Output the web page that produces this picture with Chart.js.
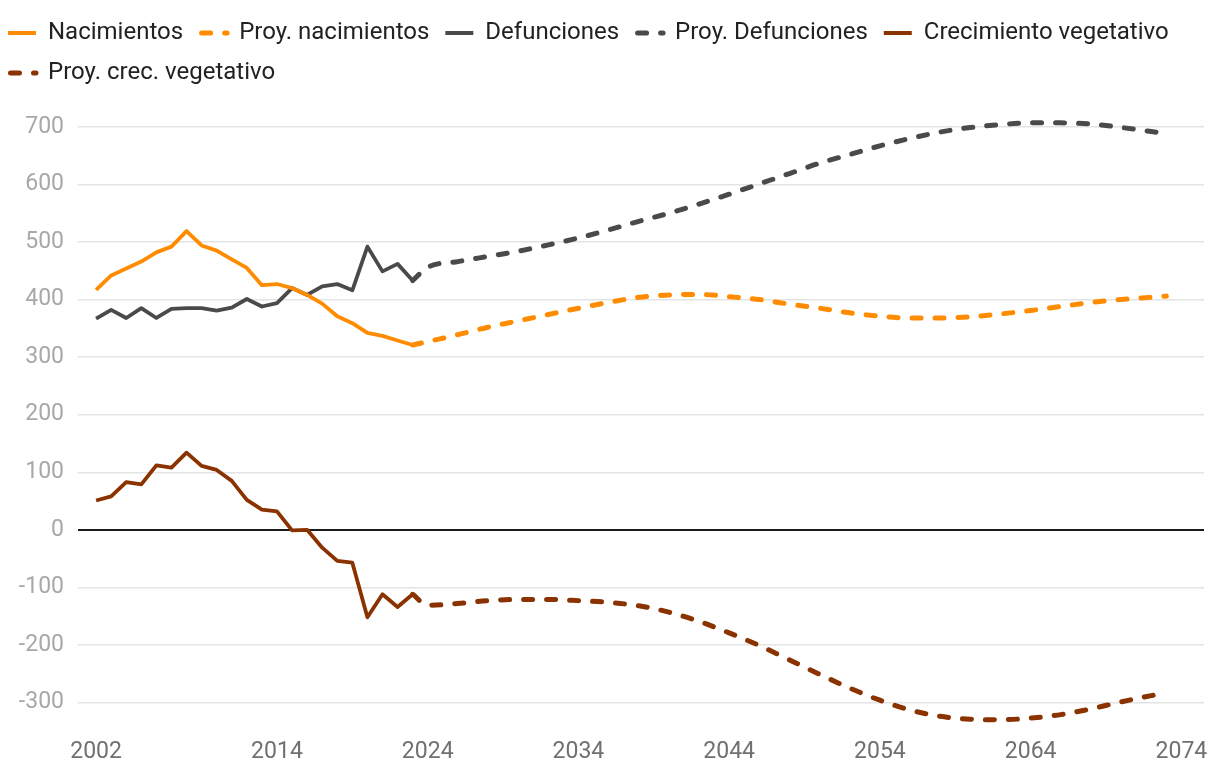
<!DOCTYPE html>
<html lang="es">
<head>
  <meta charset="UTF-8" />
  <title>Nacimientos y defunciones</title>
  <script src="https://cdn.jsdelivr.net/npm/chart.js"></script>
  <style>
    body {
      margin: 0;
      background: #ffffff;
      overflow: hidden;
    }
    .wrap {
      position: absolute;
      left: -8px;
      top: 0;
      width: 1228px;
      height: 770px;
    }
  </style>
</head>
<body>
  <div class="wrap">
    <canvas id="chart"></canvas>
  </div>

  <script>
    // historical data
    const histYears = [2002, 2003, 2004, 2005, 2006, 2007, 2008, 2009, 2010, 2011, 2012,
                       2013, 2014, 2015, 2016, 2017, 2018, 2019, 2020, 2021, 2022, 2023];
    const nacimientos = [417, 442, 454, 466, 482, 492, 519, 494, 485, 470, 455,
                         425, 427, 420, 408, 393, 371, 359, 342, 337, 329, 321];
    const defunciones = [367, 382, 368, 385, 368, 384, 385, 385, 381, 386, 401,
                         388, 394, 420, 408, 423, 427, 416, 492, 449, 462, 433];
    const crecimiento = [51, 58, 83, 79, 112, 108, 134, 111, 104, 85, 52,
                         35, 32, -1, 0, -31, -54, -57, -152, -112, -134, -112];

    // projections
    const projYears = [2023, 2024, 2026, 2028, 2030, 2032, 2034, 2036, 2038, 2040, 2042, 2044, 2046, 2048,
                       2050, 2052, 2054, 2056, 2058, 2060, 2062, 2064, 2066, 2068, 2070, 2072, 2073];
    const proyNacimientos = [321, 327, 339, 352, 363, 374, 385, 395, 404, 408, 409, 405, 400, 392,
                             385, 377, 371, 368, 368, 370, 375, 381, 388, 395, 400, 404, 406];
    const proyDefunciones = [433, 456, 466, 475, 484, 495, 507, 521, 536, 550, 566, 583, 601, 619,
                             637, 652, 667, 680, 691, 699, 704, 707, 707, 705, 699, 692, 688];
    const proyCrecimiento = [-112, -131, -128, -123, -121, -121, -123, -126, -132, -143, -159, -179, -201, -226,
                             -251, -275, -296, -313, -324, -329, -330, -327, -321, -311, -299, -288, -283];

    const xTicks = [2002, 2014, 2024, 2034, 2044, 2054, 2064, 2074];
    const yTicks = [-300, -200, -100, 0, 100, 200, 300, 400, 500, 600, 700];

    const ORANGE = '#ff8c00';
    const GREY = '#4a4a4a';
    const BROWN = '#8a3200';

    const pts = (xs, ys) => xs.map((x, i) => ({ x: x, y: ys[i] }));

    function solid(label, xs, ys, color) {
      return {
        label: label,
        data: pts(xs, ys),
        borderColor: color,
        backgroundColor: color,
        borderWidth: 3.8,
        borderJoinStyle: 'round',
        tension: 0,
        pointRadius: 0,
        fill: false
      };
    }

    function dashed(label, xs, ys, color) {
      return {
        label: label,
        data: pts(xs, ys),
        borderColor: color,
        backgroundColor: color,
        borderWidth: 5,
        borderDash: [9, 14],
        borderCapStyle: 'round',
        cubicInterpolationMode: 'monotone',
        pointRadius: 0,
        fill: false
      };
    }

    // legend samples: plain line for solid series, dash + dot for projections
    function legendItems(chart) {
      return chart.data.datasets.map((ds, i) => {
        const isDash = !!ds.borderDash;
        return {
          text: ds.label,
          fillStyle: ds.borderColor,
          strokeStyle: ds.borderColor,
          fontColor: '#222',
          lineWidth: isDash ? 5 : 4,
          lineDash: isDash ? [9, 14] : [],
          lineDashOffset: isDash ? 20.5 : 0,
          lineCap: isDash ? 'round' : 'butt',
          pointStyle: 'line',
          hidden: false,
          datasetIndex: i
        };
      });
    }

    const ctx = document.getElementById('chart').getContext('2d');

    new Chart(ctx, {
      type: 'line',
      data: {
        datasets: [
          solid('Nacimientos', histYears, nacimientos, ORANGE),
          dashed('Proy. nacimientos', projYears, proyNacimientos, ORANGE),
          solid('Defunciones', histYears, defunciones, GREY),
          dashed('Proy. Defunciones', projYears, proyDefunciones, GREY),
          solid('Crecimiento vegetativo', histYears, crecimiento, BROWN),
          dashed('Proy. crec. vegetativo', projYears, proyCrecimiento, BROWN)
        ]
      },
      options: {
        responsive: true,
        maintainAspectRatio: false,
        animation: false,
        layout: { padding: { top: 5, right: 16, bottom: 0 } },
        plugins: {
          tooltip: { enabled: false },
          legend: {
            position: 'top',
            align: 'start',
            labels: {
              usePointStyle: true,
              pointStyleWidth: 28,
              padding: 16,
              color: '#222',
              font: { family: 'Roboto', size: 24 },
              generateLabels: legendItems
            }
          }
        },
        scales: {
          x: {
            type: 'linear',
            min: 2000.8,
            max: 2075.5,
            grid: { display: false },
            border: { display: false },
            afterBuildTicks: axis => { axis.ticks = xTicks.map(v => ({ value: v })); },
            ticks: {
              padding: 4,
              color: '#707070',
              maxRotation: 0,
              autoSkip: false,
              font: { family: 'Roboto', size: 23 },
              callback: v => String(v)
            }
          },
          y: {
            min: -341.5,
            max: 755.4,
            afterFit: scale => { scale.width = 86; },
            afterBuildTicks: axis => { axis.ticks = yTicks.map(v => ({ value: v })); },
            border: { display: false },
            grid: {
              drawTicks: false,
              color: c => (c.tick && c.tick.value === 0) ? '#1a1a1a' : '#e4e4e4',
              lineWidth: c => (c.tick && c.tick.value === 0) ? 2 : 1.5
            },
            ticks: {
              padding: 14,
              color: '#a8a8a8',
              font: { family: 'Roboto', size: 23 },
              callback: v => String(v)
            }
          }
        }
      }
    });
  </script>
</body>
</html>
